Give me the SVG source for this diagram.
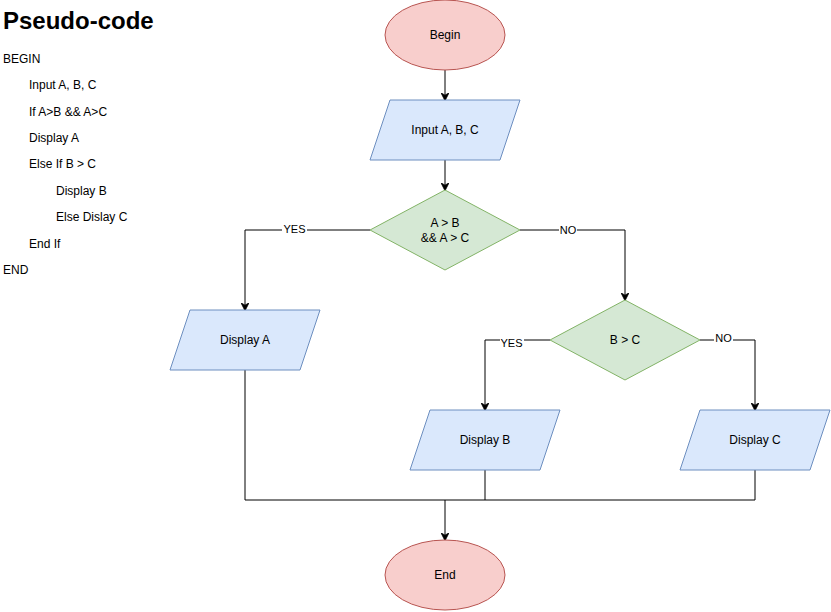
<svg xmlns="http://www.w3.org/2000/svg" width="831" height="612" viewBox="0 0 831 612">
  <style>
    text { font-family: "Liberation Sans", Arial, Helvetica, sans-serif; fill: #000; }
    .code { font-size: 12px; }
    .title { font-size: 24px; font-weight: bold; }
    .lbl { font-size: 12px; text-anchor: middle; }
    .edge-lbl { font-size: 11px; text-anchor: middle; }
    .term { fill: #f8cecc; stroke: #b85450; stroke-width: 1; }
    .io { fill: #dae8fc; stroke: #6c8ebf; stroke-width: 1; }
    .dec { fill: #d5e8d4; stroke: #82b366; stroke-width: 1; }
    .wire { fill: none; stroke: #000; stroke-width: 1; }
    .arrow { fill: none; stroke: #000; stroke-width: 1; marker-end: url(#head); }
  </style>
  <defs>
    <marker id="head" viewBox="0 0 10 10" refX="9" refY="5" markerWidth="8" markerHeight="8" markerUnits="userSpaceOnUse" orient="auto">
      <path d="M0,0 L10,5 L0,10 L3,5 Z" fill="#000" stroke="#000" stroke-width="1"/>
    </marker>
  </defs>
  <rect width="831" height="612" fill="#fff"/>

  <!-- pseudo-code listing -->
  <g id="pseudo-code">
    <text class="title" x="3" y="29">Pseudo-code</text>
    <text class="code" x="3" y="63">BEGIN</text>
    <text class="code" x="29" y="89">Input A, B, C</text>
    <text class="code" x="29" y="116">If A&gt;B &amp;&amp; A&gt;C</text>
    <text class="code" x="29" y="142">Display A</text>
    <text class="code" x="29" y="168">Else If B &gt; C</text>
    <text class="code" x="56" y="195">Display B</text>
    <text class="code" x="56" y="221">Else Dislay C</text>
    <text class="code" x="29" y="248">End If</text>
    <text class="code" x="3" y="274">END</text>
  </g>

  <!-- connectors -->
  <g id="connectors">
    <path class="arrow" d="M445,70 V100"/>
    <path class="arrow" d="M445,160 V190"/>
    <path class="arrow" d="M370,230 H245 V310"/>
    <path class="arrow" d="M520,230 H625 V300"/>
    <path class="arrow" d="M550,340 H485 V410"/>
    <path class="arrow" d="M700,340 H755 V410"/>
    <path class="wire" d="M245,370 V500 H755 V470"/>
    <path class="wire" d="M485,470 V500"/>
    <path class="arrow" d="M445,500 V540"/>
    <!-- branch labels -->
    <rect x="282" y="224" width="25" height="12" fill="#fff"/>
    <text class="edge-lbl" x="294.5" y="233">YES</text>
    <rect x="559" y="225" width="18" height="12" fill="#fff"/>
    <text class="edge-lbl" x="568" y="234">NO</text>
    <rect x="500" y="338" width="24" height="11" fill="#fff"/>
    <text class="edge-lbl" x="511.5" y="347">YES</text>
    <rect x="714" y="333" width="19" height="10" fill="#fff"/>
    <text class="edge-lbl" x="723.5" y="342">NO</text>
  </g>

  <g id="begin">
    <ellipse class="term" cx="445" cy="35" rx="60" ry="35"/>
    <text class="lbl" x="445" y="39">Begin</text>
  </g>

  <g id="input">
    <polygon class="io" points="390,100 520,100 500,160 370,160"/>
    <text class="lbl" x="445" y="134">Input A, B, C</text>
  </g>

  <g id="check-a">
    <polygon class="dec" points="445,190 520,230 445,270 370,230"/>
    <text class="lbl" x="445" y="227">A &gt; B</text>
    <text class="lbl" x="445" y="242">&amp;&amp; A &gt; C</text>
  </g>

  <g id="display-a">
    <polygon class="io" points="190,310 320,310 300,370 170,370"/>
    <text class="lbl" x="245" y="344">Display A</text>
  </g>

  <g id="check-b">
    <polygon class="dec" points="625,300 700,340 625,380 550,340"/>
    <text class="lbl" x="625" y="344">B &gt; C</text>
  </g>

  <g id="display-b">
    <polygon class="io" points="430,410 560,410 540,470 410,470"/>
    <text class="lbl" x="485" y="444">Display B</text>
  </g>

  <g id="display-c">
    <polygon class="io" points="700,410 830,410 810,470 680,470"/>
    <text class="lbl" x="755" y="444">Display C</text>
  </g>

  <g id="end">
    <ellipse class="term" cx="445" cy="575" rx="60" ry="35"/>
    <text class="lbl" x="445" y="579">End</text>
  </g>
</svg>
